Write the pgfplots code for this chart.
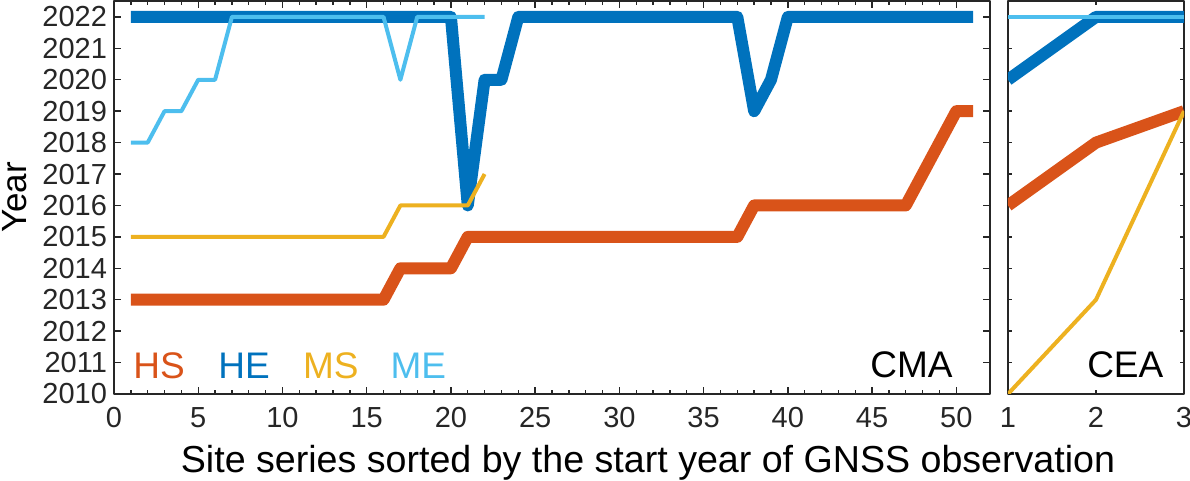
\documentclass[border=0pt]{standalone}
\usepackage{fontspec}
\setmainfont{Liberation Sans}
\usepackage{pgfplots}
\pgfplotsset{compat=1.18}
\usetikzlibrary{calc}
\definecolor{hs}{HTML}{D95319}
\definecolor{he}{HTML}{0072BD}
\definecolor{ms}{HTML}{EDB120}
\definecolor{me}{HTML}{4DBEEE}
\definecolor{axgray}{HTML}{262626}

\pgfplotsset{
  yearax/.style={
    scale only axis,
    ymin=2010, ymax=2022.5,
    ytick={2010,2011,...,2022},
    axis line style={axgray, line width=0.8pt},
    every tick/.style={axgray, line width=0.7pt},
    tick label style={font=\fontsize{14.5}{17}\selectfont, text=axgray},
    xticklabel style={yshift=-3pt},
    /pgf/number format/assume math mode=true,
    /pgf/number format/1000 sep={},
    line join=round, line cap=butt,
  },
  thickl/.style={line width=6pt},
  thinl/.style={line width=2pt},
}

\begin{document}
\begin{tikzpicture}
\path[use as bounding box] (-57pt,-43.5pt) rectangle (538pt,197pt);

\begin{axis}[yearax, name=L,
    width=438pt, height=196.4pt,
    xmin=0, xmax=52,
    xtick={0,5,...,50},
    minor x tick num=4,
    major tick length=3.5pt, minor tick length=1.75pt,
]
% HS
\addplot[hs, thickl] coordinates {
 (1,2013) (2,2013) (3,2013) (4,2013) (5,2013) (6,2013) (7,2013) (8,2013) (9,2013) (10,2013)
 (11,2013) (12,2013) (13,2013) (14,2013) (15,2013) (16,2013) (17,2014) (18,2014) (19,2014) (20,2014)
 (21,2015) (22,2015) (23,2015) (24,2015) (25,2015) (26,2015) (27,2015) (28,2015) (29,2015) (30,2015)
 (31,2015) (32,2015) (33,2015) (34,2015) (35,2015) (36,2015) (37,2015) (38,2016) (39,2016) (40,2016)
 (41,2016) (42,2016) (43,2016) (44,2016) (45,2016) (46,2016) (47,2016) (48,2017) (49,2018) (50,2019)
 (51,2019)};
% HE
\addplot[he, thickl] coordinates {
 (1,2022) (2,2022) (3,2022) (4,2022) (5,2022) (6,2022) (7,2022) (8,2022) (9,2022) (10,2022)
 (11,2022) (12,2022) (13,2022) (14,2022) (15,2022) (16,2022) (17,2022) (18,2022) (19,2022) (20,2022)
 (21,2016) (22,2020) (23,2020) (24,2022) (25,2022) (26,2022) (27,2022) (28,2022) (29,2022) (30,2022)
 (31,2022) (32,2022) (33,2022) (34,2022) (35,2022) (36,2022) (37,2022) (38,2019) (39,2020) (40,2022)
 (41,2022) (42,2022) (43,2022) (44,2022) (45,2022) (46,2022) (47,2022) (48,2022) (49,2022) (50,2022)
 (51,2022)};
% MS
\addplot[ms, thinl] coordinates {
 (1,2015) (2,2015) (3,2015) (4,2015) (5,2015) (6,2015) (7,2015) (8,2015) (9,2015) (10,2015)
 (11,2015) (12,2015) (13,2015) (14,2015) (15,2015) (16,2015) (17,2016) (18,2016) (19,2016) (20,2016)
 (21,2016) (22,2017)};
% ME
\addplot[me, thinl] coordinates {
 (1,2018) (2,2018) (3,2019) (4,2019) (5,2020) (6,2020) (7,2022) (8,2022) (9,2022) (10,2022)
 (11,2022) (12,2022) (13,2022) (14,2022) (15,2022) (16,2022) (17,2020) (18,2022) (19,2022) (20,2022)
 (21,2022) (22,2022)};

\node[anchor=base west, inner sep=0pt, text=hs, font=\fontsize{18.5}{22}\selectfont] at (axis cs:1.13,2010.48) {HS};
\node[anchor=base west, inner sep=0pt, text=he, font=\fontsize{18.5}{22}\selectfont] at (axis cs:6.17,2010.48) {HE};
\node[anchor=base west, inner sep=0pt, text=ms, font=\fontsize{18.5}{22}\selectfont] at (axis cs:11.2,2010.48) {MS};
\node[anchor=base west, inner sep=0pt, text=me, font=\fontsize{18.5}{22}\selectfont] at (axis cs:16.4,2010.48) {ME};
\node[anchor=base east, inner sep=0pt, font=\fontsize{18.5}{22}\selectfont] at (axis cs:49.8,2010.51) {CMA};
\end{axis}

\begin{axis}[yearax, name=R,
    at={($(L.south east)+(9pt,0)$)}, anchor=south west,
    width=88pt, height=196.4pt,
    xmin=1, xmax=3,
    xtick={1,2,3},
    yticklabels={},
    major tick length=2pt,
]
\addplot[hs, thickl] coordinates {(1,2016) (2,2018) (3,2019)};
\addplot[he, thickl] coordinates {(1,2020) (2,2022) (3,2022)};
\addplot[ms, thinl] coordinates {(1,2010) (2,2013) (3,2019)};
\addplot[me, thinl] coordinates {(1,2022) (2,2022) (3,2022)};
\node[anchor=base east, inner sep=0pt, font=\fontsize{18.5}{22}\selectfont] at (axis cs:2.77,2010.54) {CEA};
\end{axis}

\node[anchor=base, inner sep=0pt, font=\fontsize{18.8}{22}\selectfont] at (267pt,-39.5pt) {Site series sorted by the start year of GNSS observation};
\node[anchor=base, inner sep=0pt, rotate=90, font=\fontsize{17.5}{21}\selectfont] at (-43.5pt,98.2pt) {Year};
\end{tikzpicture}
\end{document}
